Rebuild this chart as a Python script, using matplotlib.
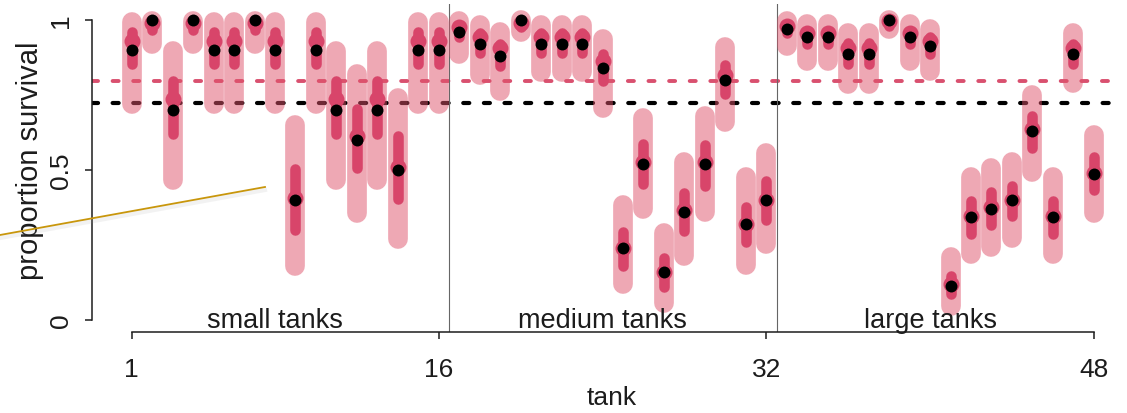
import matplotlib
matplotlib.use("Agg")
import matplotlib.pyplot as plt
from matplotlib.lines import Line2D
import numpy as np

plt.rcParams["font.family"] = ["Liberation Sans", "DejaVu Sans"]

# observed proportion surviving in each tank (black dots)
obs_small = [0.9, 1.0, 0.7, 1.0, 0.9, 0.9, 1.0, 0.9, 0.4, 0.9, 0.7, 0.6, 0.7, 0.5, 0.9, 0.9]
obs_medium = [0.96, 0.92, 0.88, 1.0, 0.92, 0.92, 0.92, 0.84, 0.24, 0.52, 0.16, 0.36, 0.52, 0.80, 0.32, 0.40]
obs_large = [0.971, 0.943, 0.943, 0.886, 0.886, 1.0, 0.943, 0.914,
             0.114, 0.343, 0.371, 0.40, 0.629, 0.343, 0.886, 0.486]

# posterior mean per tank (red points)
post_mean = [0.93, 0.99, 0.737, 0.99, 0.93, 0.93, 0.99, 0.93, 0.405, 0.93, 0.737, 0.614, 0.737, 0.509, 0.93, 0.93,
             0.976, 0.942, 0.906, 0.99, 0.942, 0.942, 0.942, 0.864, 0.24, 0.525, 0.16, 0.365, 0.525, 0.817, 0.32, 0.40,
             0.98, 0.955, 0.955, 0.905, 0.905, 0.995, 0.955, 0.93, 0.12, 0.345, 0.375, 0.40, 0.635, 0.345, 0.905, 0.49]

# wide interval (light pink bars)
wide_lo = [0.719, 0.919, 0.466, 0.919, 0.719, 0.719, 0.919, 0.719, 0.18, 0.719, 0.466, 0.355, 0.466, 0.271, 0.719, 0.719,
           0.885, 0.815, 0.763, 0.96, 0.826, 0.826, 0.826, 0.708, 0.119, 0.369, 0.058, 0.213, 0.36, 0.66, 0.182, 0.252,
           0.913, 0.863, 0.863, 0.785, 0.785, 0.969, 0.863, 0.83, 0.046, 0.219, 0.244, 0.274, 0.493, 0.219, 0.789, 0.358]
wide_hi = [0.994, 0.996, 0.896, 0.996, 0.994, 0.994, 0.996, 0.994, 0.649, 0.994, 0.896, 0.821, 0.896, 0.74, 0.994, 0.994,
           0.996, 0.982, 0.96, 0.999, 0.982, 0.982, 0.982, 0.938, 0.382, 0.674, 0.291, 0.525, 0.68, 0.91, 0.477, 0.555,
           0.996, 0.988, 0.988, 0.958, 0.958, 0.999, 0.988, 0.971, 0.21, 0.477, 0.505, 0.527, 0.751, 0.477, 0.958, 0.618]

# narrow interval (dark red bars)
narrow_lo = [0.854, 0.965, 0.62, 0.965, 0.854, 0.854, 0.965, 0.854, 0.30, 0.854, 0.62, 0.507, 0.62, 0.404, 0.854, 0.854,
             0.943, 0.889, 0.845, 0.975, 0.889, 0.889, 0.889, 0.796, 0.181, 0.454, 0.109, 0.296, 0.448, 0.754, 0.259, 0.334,
             0.956, 0.92, 0.92, 0.854, 0.854, 0.98, 0.92, 0.887, 0.087, 0.287, 0.315, 0.345, 0.574, 0.287, 0.854, 0.434]
narrow_hi = [0.959, 0.995, 0.797, 0.995, 0.959, 0.959, 0.995, 0.959, 0.503, 0.959, 0.797, 0.703, 0.797, 0.614, 0.959, 0.959,
             0.981, 0.955, 0.92, 0.995, 0.955, 0.955, 0.955, 0.886, 0.294, 0.586, 0.206, 0.422, 0.584, 0.851, 0.375, 0.462,
             0.986, 0.964, 0.964, 0.922, 0.922, 0.997, 0.964, 0.942, 0.147, 0.397, 0.425, 0.447, 0.681, 0.397, 0.92, 0.542]

mean_observed = 0.722
mean_pooled = 0.795
group_breaks = [16.5, 32.5]
group_names = ["small tanks", "medium tanks", "large tanks"]
group_centers = [8, 24, 40]
x_ticks = [1, 16, 32, 48]
y_ticks = [0, 0.5, 1]
y_ticklabels = ["0", "0.5", "1"]

RED = "#DF536B"
DARK = "#D8456A"
INK = "#1c1c1c"

observed = np.array(obs_small + obs_medium + obs_large)
tank = np.arange(1, len(observed) + 1)

W, H = 1127, 414
fig = plt.figure(figsize=(W / 100, H / 100), dpi=100)
ax = fig.add_axes([92 / W, 1 - 333 / H, (1120 - 92) / W, (333 - 5) / H])
ax.set_xlim(-0.939, 49.28)
ax.set_ylim(-0.04, 1.0533)

ax.axhline(mean_observed, color="black", lw=3.0, dashes=(1.45, 3.5), dash_capstyle="round", zorder=1)
ax.axhline(mean_pooled, color="#D9506F", lw=2.8, dashes=(1.55, 3.75), dash_capstyle="round", zorder=1)
for b in group_breaks:
    ax.axvline(b, color="#666666", lw=0.8, zorder=1)

for i, t in enumerate(tank):
    ax.plot([t, t], [wide_lo[i], wide_hi[i]], color=RED, alpha=0.5, lw=14.2,
            solid_capstyle="round", zorder=2)
    ax.plot([t, t], [narrow_lo[i], narrow_hi[i]], color=DARK, lw=7.6,
            solid_capstyle="round", zorder=3)
ax.plot(tank, post_mean, "o", color=DARK, ms=11.5, mew=0, zorder=4)
ax.plot(tank, observed, "o", color="black", ms=8.6, mew=0, zorder=5)

for name, c in zip(group_names, group_centers):
    ax.text(c, 0, name, ha="center", va="center", fontsize=19.5, color=INK, zorder=6)

for side in ["top", "right"]:
    ax.spines[side].set_visible(False)
ax.spines["left"].set_bounds(0, 1)
ax.spines["bottom"].set_bounds(1, 48)
for side in ["left", "bottom"]:
    ax.spines[side].set_color(INK)
    ax.spines[side].set_linewidth(1.1)

ax.set_xticks(x_ticks)
ax.set_xticklabels([str(v) for v in x_ticks])
ax.set_yticks(y_ticks)
ax.set_yticklabels(y_ticklabels, rotation=90, va="center")
ax.tick_params(axis="both", length=5, width=1.1, color=INK, labelsize=19, labelcolor=INK)
ax.tick_params(axis="x", pad=13)
ax.tick_params(axis="y", pad=9)

ax.set_xlabel("tank", fontsize=19, color=INK)
ax.xaxis.label.set_va("center")
ax.xaxis.set_label_coords((612 - 92) / 1028, (333 - 398) / 328)
ax.set_ylabel("proportion survival", fontsize=21, color=INK)
ax.yaxis.label.set_va("center")
ax.yaxis.set_label_coords((30 - 92) / 1028, (333 - 161) / 328)

# annotation pointer line over the slide
x0, y0, x1, y1 = 0, 236, 265, 188
fig.add_artist(Line2D([x0 / W, x1 / W], [1 - (y0 + 3) / H, 1 - (y1 + 3) / H],
                      transform=fig.transFigure, color="#999999", lw=3, alpha=0.12))
fig.add_artist(Line2D([x0 / W, x1 / W], [1 - y0 / H, 1 - y1 / H],
                      transform=fig.transFigure, color="#C8960C", lw=1.3))

fig.savefig("out.png", dpi=100)
